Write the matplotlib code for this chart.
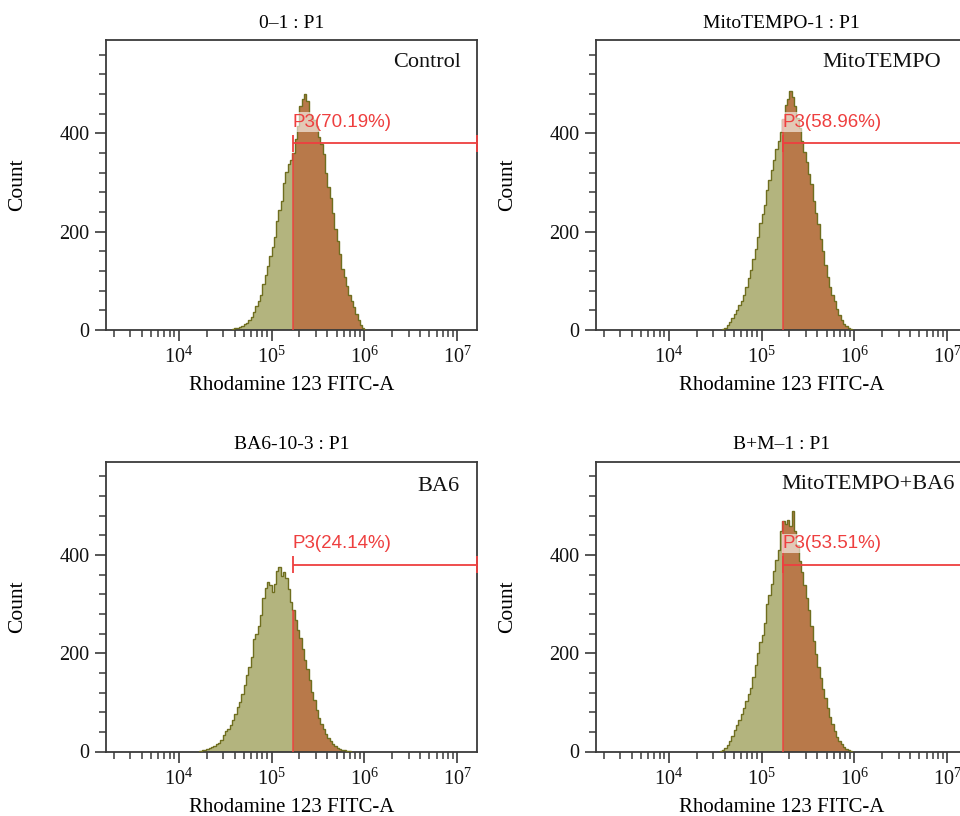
import matplotlib.pyplot as plt
import numpy as np
from matplotlib.patches import Rectangle
from matplotlib.ticker import LogLocator, MultipleLocator, NullFormatter

plt.rcParams.update({
    "font.family": ["Liberation Serif", "DejaVu Serif"],
    "font.size": 14,
    "mathtext.default": "regular",
    "axes.linewidth": 1.3,
    "axes.edgecolor": "#3a3a3a",
    "xtick.color": "#3a3a3a",
    "ytick.color": "#3a3a3a",
    "xtick.labelcolor": "#111111",
    "ytick.labelcolor": "#111111",
})

# Colours
OLIVE_FILL = "#B3B47E"
BROWN_FILL = "#B8794A"
OUTLINE = "#6F6E1F"
GATE_RED = "#EE3F3F"

# Histogram channels: log10 width of one channel
BIN_WIDTH = 0.025
XMIN, XMAX = 10 ** 3.22, 10 ** 7.21
YMAX = 590

# P3 gate (same for every tube)
GATE = 1.7e5
GATE_LEVEL = 380
LABEL_LEVEL = 423

TITLES = ["0\u20131 : P1", "MitoTEMPO-1 : P1", "BA6-10-3 : P1", "B+M\u20131 : P1"]
SAMPLES = ["Control", "MitoTEMPO", "BA6", "MitoTEMPO+BA6"]
GATE_LABELS = ["P3(70.19%)", "P3(58.96%)", "P3(24.14%)", "P3(53.51%)"]

# log10 of the left edge of the first non-empty channel
START_LOG = [4.575, 4.575, 4.225, 4.55]

CONTROL = [2, 4, 5, 7, 9, 12, 15, 20, 27, 36, 48, 60, 72, 94, 112, 130, 150, 168,
           190, 222, 245, 262, 300, 322, 338, 345, 360, 388, 415, 455, 470, 480,
           465, 440, 432, 428, 415, 392, 378, 358, 320, 290, 268, 238, 205, 182,
           155, 125, 108, 90, 72, 60, 46, 32, 20, 10, 4, 1]
MITOTEMPO = [2, 5, 10, 16, 24, 32, 40, 50, 60, 72, 88, 105, 122, 145, 165, 190,
             218, 235, 255, 285, 305, 325, 345, 368, 385, 402, 430, 458, 470, 486,
             475, 455, 432, 410, 385, 362, 342, 318, 298, 262, 238, 215, 185, 160,
             132, 108, 88, 72, 58, 42, 30, 20, 12, 8, 5, 3, 1]
BA6 = [2, 3, 4, 6, 8, 10, 12, 15, 18, 24, 34, 42, 46, 54, 64, 76, 90, 100, 118,
       136, 155, 172, 192, 228, 240, 255, 278, 312, 332, 345, 338, 325, 340, 368,
       375, 358, 366, 352, 330, 305, 288, 268, 248, 230, 208, 186, 168, 145, 122,
       104, 84, 68, 55, 45, 36, 28, 21, 16, 12, 8, 6, 4, 3, 2, 1]
MITO_BA6 = [2, 4, 8, 14, 22, 32, 44, 54, 64, 76, 88, 102, 118, 130, 152, 175, 200,
            222, 238, 262, 300, 318, 340, 368, 390, 410, 448, 468, 462, 470, 458,
            490, 448, 420, 388, 365, 338, 312, 288, 255, 225, 198, 172, 150, 128,
            108, 88, 70, 55, 42, 30, 22, 15, 10, 6, 3, 1]
COUNTS = [CONTROL, MITOTEMPO, BA6, MITO_BA6]

# figure layout in pixels: (left, top) of each axes, shared size
W, H = 960, 816
AX_POS = [(106, 40), (596, 40), (106, 461.5), (596, 461.5)]
AX_W, AX_H = 371, 290
SAMPLE_XY = [(0.957, 0.924), (0.930, 0.924), (0.954, 0.915), (0.968, 0.919)]


def draw_panel(ax, counts, start, title, sample, label, sample_xy):
    counts = np.asarray(counts, dtype=float)
    edges = 10 ** (start + BIN_WIDTH * np.arange(len(counts) + 1))

    ax.stairs(counts, edges, fill=True, color=OLIVE_FILL, lw=0, zorder=2)
    right = ax.stairs(counts, edges, fill=True, color=BROWN_FILL, lw=0, zorder=2.1)
    clip = Rectangle((GATE, 0), XMAX * 10 - GATE, YMAX * 2, transform=ax.transData)
    right.set_clip_path(clip)
    ax.stairs(counts, edges, color=OUTLINE, lw=1.0, zorder=3)

    h_gate = counts[np.searchsorted(edges, GATE) - 1]
    ax.vlines(GATE, 0, h_gate, color=GATE_RED, lw=1.2, alpha=0.85, zorder=3.5)

    # gate marker
    ax.hlines(GATE_LEVEL, GATE, XMAX, color=GATE_RED, lw=1.3, zorder=4, clip_on=False)
    ax.vlines([GATE, XMAX], GATE_LEVEL - 17, GATE_LEVEL + 17, color=GATE_RED,
              lw=1.3, zorder=4, clip_on=False)
    ax.text(GATE, LABEL_LEVEL, label, color=GATE_RED, fontsize=13.5,
            family=["Liberation Sans", "DejaVu Sans"], ha="left", va="center",
            zorder=5,
            bbox=dict(facecolor="white", alpha=0.6, edgecolor="none", pad=0.8))

    ax.text(sample_xy[0], sample_xy[1], sample, transform=ax.transAxes,
            ha="right", va="center", fontsize=16, color="#111111")

    ax.set_xscale("log")
    ax.set_xlim(XMIN, XMAX)
    ax.set_ylim(0, YMAX)
    ax.xaxis.set_major_locator(LogLocator(base=10, numticks=12))
    ax.xaxis.set_minor_locator(LogLocator(base=10, subs=np.arange(2, 10), numticks=12))
    ax.xaxis.set_minor_formatter(NullFormatter())
    ax.yaxis.set_major_locator(MultipleLocator(200))
    ax.yaxis.set_minor_locator(MultipleLocator(40))
    ax.tick_params(which="major", direction="out", length=8, width=1.2,
                   labelsize=14.5, pad=4)
    ax.tick_params(which="minor", direction="out", length=5, width=1.1)

    ax.set_title(title, fontsize=14, pad=9)
    ax.set_xlabel("Rhodamine 123 FITC-A", fontsize=15)
    ax.set_ylabel("Count", fontsize=15.5)
    ax.xaxis.set_label_coords(0.5, -0.16)
    ax.yaxis.set_label_coords(-0.213, 0.5)


def main():
    fig = plt.figure(figsize=(W / 100, H / 100), dpi=100)
    for i, (left, top) in enumerate(AX_POS):
        ax = fig.add_axes([left / W, (H - top - AX_H) / H, AX_W / W, AX_H / H])
        draw_panel(ax, COUNTS[i], START_LOG[i], TITLES[i], SAMPLES[i],
                   GATE_LABELS[i], SAMPLE_XY[i])
    fig.savefig("out.png", dpi=100)
    plt.close(fig)


if __name__ == "__main__":
    main()
